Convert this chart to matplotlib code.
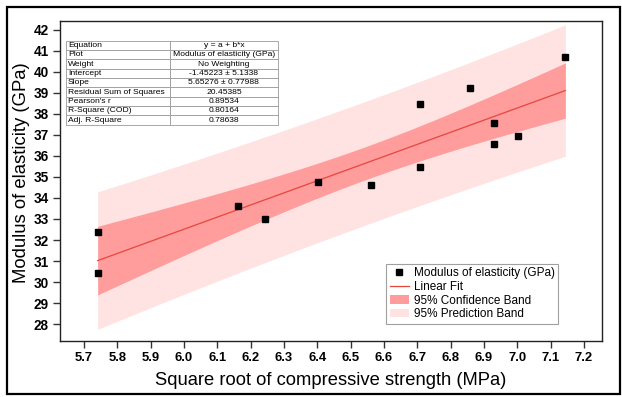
import matplotlib
matplotlib.use("Agg")
import matplotlib.pyplot as plt
import numpy as np
from matplotlib.lines import Line2D
from matplotlib.patches import Patch, Rectangle

plt.rcParams["font.family"] = ["Liberation Sans", "DejaVu Sans"]

# data
x_sqrt_fc = [5.741, 5.741, 6.163, 6.243, 6.403, 6.562, 6.709, 6.709,
             6.857, 6.929, 6.929, 7.001, 7.144]
y_modulus = [32.40, 30.41, 33.60, 33.02, 34.77, 34.63, 38.45, 35.45,
             39.21, 37.58, 36.58, 36.96, 40.70]

x_ticks = [5.7, 5.8, 5.9, 6.0, 6.1, 6.2, 6.3, 6.4, 6.5, 6.6, 6.7, 6.8, 6.9, 7.0, 7.1, 7.2]
y_ticks = list(range(28, 43))

table_rows = [
    ["Equation", "y = a + b*x"],
    ["Plot", "Modulus of elasticity (GPa)"],
    ["Weight", "No Weighting"],
    ["Intercept", "-1.45223 \u00b1 5.1338"],
    ["Slope", "5.65276 \u00b1 0.77988"],
    ["Residual Sum of Squares", "20.45385"],
    ["Pearson's r", "0.89534"],
    ["R-Square (COD)", "0.80164"],
    ["Adj. R-Square", "0.78638"],
]

T_975 = 2.201  # t(0.975, df=11)

# ---- linear fit + bands ----
xa = np.array(x_sqrt_fc)
ya = np.array(y_modulus)
n = len(xa)
b, a = np.polyfit(xa, ya, 1)
resid = ya - (a + b * xa)
s = np.sqrt(np.sum(resid ** 2) / (n - 2))
sxx = np.sum((xa - xa.mean()) ** 2)
xf = np.linspace(xa.min(), xa.max(), 200)
yf = a + b * xf
h = 1.0 / n + (xf - xa.mean()) ** 2 / sxx
conf = T_975 * s * np.sqrt(h)
pred = T_975 * s * np.sqrt(1 + h)

fig = plt.figure(figsize=(6.22, 3.97), dpi=100)
ax = fig.add_axes([60 / 622, 1 - 341 / 397, 542 / 622, 320 / 397])

pred_c = "#ffe3e3"
conf_c = "#ff9c9c"
line_c = "#e8453f"

ax.fill_between(xf, yf - pred, yf + pred, color=pred_c, lw=0, zorder=1)
ax.fill_between(xf, yf - conf, yf + conf, color=conf_c, lw=0, zorder=2)
ax.plot(xf, yf, color=line_c, lw=0.9, zorder=3)
ax.plot(xa, ya, "s", color="black", ms=5.0, zorder=4)

ax.set_xlim(5.628, 7.254)
ax.set_ylim(27.2, 42.41)
ax.set_xticks(x_ticks)
ax.set_xticklabels([f"{v:.1f}" for v in x_ticks], fontweight="bold", fontsize=9.4)
ax.set_yticks(y_ticks)
ax.set_yticklabels([str(v) for v in y_ticks], fontweight="bold", fontsize=9.8)
ax.tick_params(direction="out", length=5, width=1, color="#333333", pad=3)
ax.set_xlabel("Square root of compressive strength (MPa)", fontsize=13.2, labelpad=6)
ax.set_ylabel("Modulus of elasticity (GPa)", fontsize=13.3)
ax.yaxis.set_label_coords(-0.056, 0.525)
for sp in ax.spines.values():
    sp.set_linewidth(1.0)
    sp.set_color("#222222")

# fit summary table
tbl = ax.table(cellText=table_rows, cellLoc="center", colWidths=[0.49, 0.51],
               bbox=[0.011, 0.676, 0.391, 0.262])
tbl.auto_set_font_size(False)
tbl.set_fontsize(6.1)
for (r, c), cell in tbl.get_celld().items():
    cell.set_edgecolor("#9a9a9a")
    cell.set_linewidth(0.6)
    cell.PAD = 0.02
    if c == 0:
        cell.get_text().set_ha("left")
        cell._loc = "left"

handles = [
    Line2D([], [], marker="s", color="black", ls="none", ms=5),
    Line2D([], [], color=line_c, lw=0.9),
    Patch(facecolor=conf_c, edgecolor="none"),
    Patch(facecolor=pred_c, edgecolor="none"),
]
labels = ["Modulus of elasticity (GPa)", "Linear Fit",
          "95% Confidence Band", "95% Prediction Band"]
leg = ax.legend(handles, labels, loc="lower right", bbox_to_anchor=(0.93, 0.035),
                fontsize=8.5, frameon=True, fancybox=False, handlelength=1.6,
                handletextpad=0.4, borderpad=0.3, labelspacing=0.15)
leg.get_frame().set_edgecolor("#888888")
leg.get_frame().set_linewidth(0.8)

# outer frame around the whole image
fig.patches.append(Rectangle((7 / 622, 3 / 397), 613 / 622, 387 / 397,
                             transform=fig.transFigure, fill=False,
                             edgecolor="black", lw=1.6))

fig.savefig("out.png", dpi=100)
